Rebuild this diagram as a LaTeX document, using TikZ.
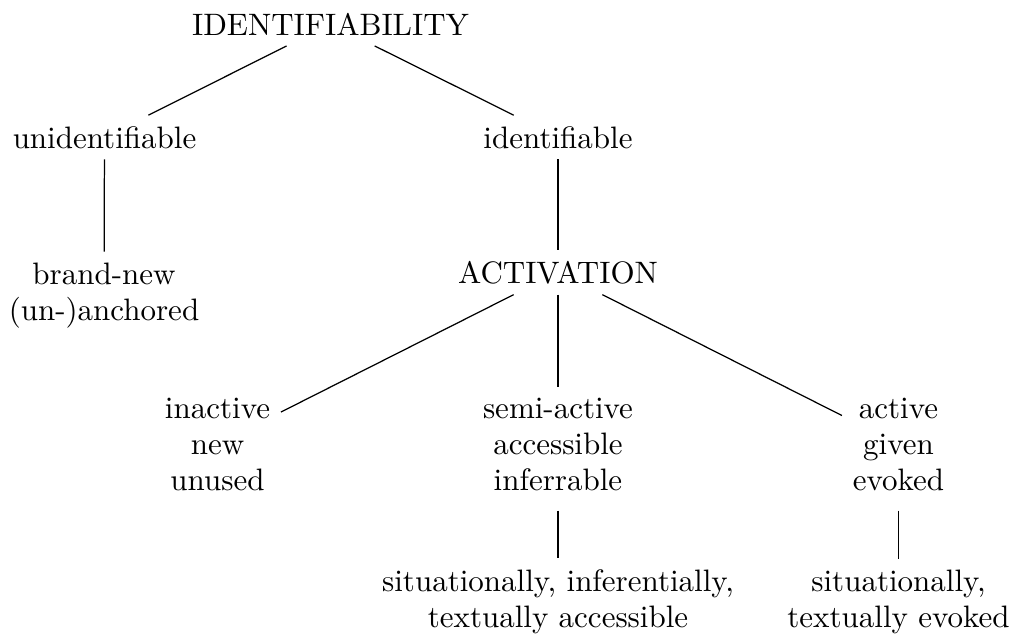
\documentclass[tikz,border=0pt]{standalone}
\begin{document}
\begin{tikzpicture}[x=0.3226pt,y=-0.3226pt,
  lbl/.style={align=center,anchor=base,font=\fontsize{10}{11.6}\selectfont},
  link/.style={line width=0.4pt},
  lowlink/.style={link,shorten <=3pt}]
\useasboundingbox (0,0) rectangle (1014,636);
% nodes of the hierarchy (anchored at the baseline of their last line)
\node[lbl] (ident)  at (330.5,35)  {IDENTIFIABILITY};
\node[lbl] (unid)   at (104.5,148) {unidentifiable};
\node[lbl] (id)     at (558,148)   {identifiable};
\node[lbl] (brand)  at (104,320)   {brand-new\\(un-)anchored};
\node[lbl] (act)    at (558,283)   {ACTIVATION};
\node[lbl] (inact)  at (217.5,490) {inactive\\new\\unused};
\node[lbl] (semi)   at (558,490)   {semi-active\\accessible\\inferrable};
\node[lbl] (active) at (898.5,490) {active\\given\\evoked};
\node[lbl] (sitacc) at (558,627)   {situationally, inferentially,\\textually accessible};
\node[lbl] (sitev)  at (898.5,627) {situationally,\\textually evoked};
% edges
\draw[link] (ident) -- (unid);
\draw[link] (ident) -- (id);
\draw[link] (unid) -- (brand);
\draw[link] (id) -- (act);
\draw[link] (act) -- (inact);
\draw[link] (act) -- (semi);
\draw[link] (act) -- (active);
\draw[lowlink] (semi) -- (sitacc);
\draw[lowlink] (active) -- (sitev);
\end{tikzpicture}
\end{document}
